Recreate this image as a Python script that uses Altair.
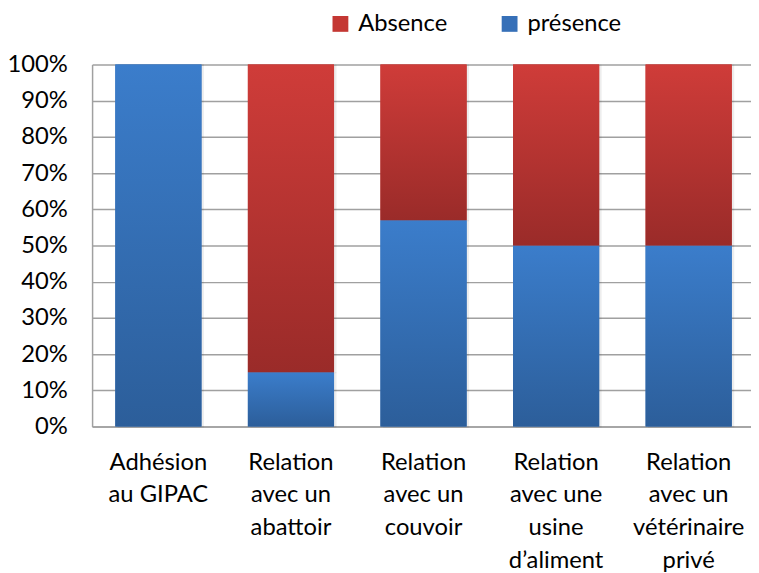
import altair as alt
import pandas as pd

categories = ["Adhésion au GIPAC", "Relation avec un abattoir", "Relation avec un couvoir",
              "Relation avec une usine d’aliment", "Relation avec un vétérinaire privé"]
label_lines = [["Adhésion", "au GIPAC"],
               ["Relation", "avec un", "abattoir"],
               ["Relation", "avec un", "couvoir"],
               ["Relation", "avec une", "usine", "d’aliment"],
               ["Relation", "avec un", "vétérinaire", "privé"]]
presence = [1.00, 0.15, 0.57, 0.50, 0.50]
absence = [0.00, 0.85, 0.43, 0.50, 0.50]
series = ["Absence", "présence"]
legend_colors = ["#C43733", "#3670B8"]
red_grad = ["#CF3C39", "#9A2B29"]
blue_grad = ["#3B7DCB", "#2C5E9A"]
y_ticks = [0, 0.1, 0.2, 0.3, 0.4, 0.5, 0.6, 0.7, 0.8, 0.9, 1.0]

rows = []
for c, p, a in zip(categories, presence, absence):
    rows.append({"category": c, "series": "présence", "start": 0.0, "end": p})
    rows.append({"category": c, "series": "Absence", "start": p, "end": p + a})
df = pd.DataFrame(rows)

def grad(stops):
    return {"gradient": "linear", "x1": 0, "y1": 0, "x2": 0, "y2": 1,
            "stops": [{"offset": 0, "color": stops[0]}, {"offset": 1, "color": stops[1]}]}

def js(s):
    return "'" + s.replace("'", "\\'") + "'"

label_expr = "({" + ", ".join(
    js(c) + ": [" + ", ".join(js(l) for l in lines) + "]" for c, lines in zip(categories, label_lines)
) + "})[datum.label]"

FONT = "Lato"
FS = 24

x_enc = alt.X("category:N", sort=categories,
              scale=alt.Scale(range=[0, 670], paddingInner=0.35, paddingOuter=0.175),
              axis=alt.Axis(title=None, labelAngle=0, ticks=False, grid=False,
                            domainColor="#A0A0A0", domainWidth=1.5,
                            labelExpr=label_expr, labelFontSize=FS, labelFont=FONT,
                            labelColor="#000000", labelLineHeight=33, labelPadding=24,
                            labelBaseline="top", labelLimit=300))
y_enc = alt.Y("start:Q",
              scale=alt.Scale(domain=[0, 1], nice=False),
              axis=alt.Axis(title=None, values=y_ticks, format=".0%", ticks=False,
                            labelOverlap=False,
                            gridColor="#A0A0A0", gridWidth=1.5, domainColor="#A0A0A0",
                            domainWidth=1.5, labelPadding=25, labelFontSize=FS,
                            labelFont=FONT, labelColor="#000000"))

shadow = alt.Chart(df).mark_bar(color="#000000", opacity=0.07, xOffset=2.5, yOffset=1).encode(
    x=x_enc, y=y_enc, y2="end",
)

base = alt.Chart(df).mark_bar().encode(
    x=x_enc, y=y_enc, y2="end",
    color=alt.Color("series:N", sort=series,
                    scale=alt.Scale(domain=series, range=legend_colors),
                    legend=alt.Legend(title=None, orient="none", legendX=239, legendY=-53,
                                      direction="horizontal", symbolType="square",
                                      symbolSize=256, symbolStrokeWidth=0,
                                      labelFontSize=FS, labelFont=FONT, labelColor="#000000",
                                      columnPadding=50, labelOffset=6)),
)

overlay = alt.Chart(df).mark_bar().encode(
    x=x_enc, y=y_enc, y2="end",
    fill=alt.condition(alt.datum.series == "Absence", alt.value(grad(red_grad)), alt.value(grad(blue_grad))),
)

chart = alt.layer(shadow, base, overlay).properties(
    width=664, height=366,
    autosize=alt.AutoSizeParams(type="none"),
    padding={"left": 85, "top": 54, "right": 2, "bottom": 152},
).configure(font=FONT).configure_view(stroke=None)

chart.save("out.html", embed_options={"renderer": "svg", "actions": False})
